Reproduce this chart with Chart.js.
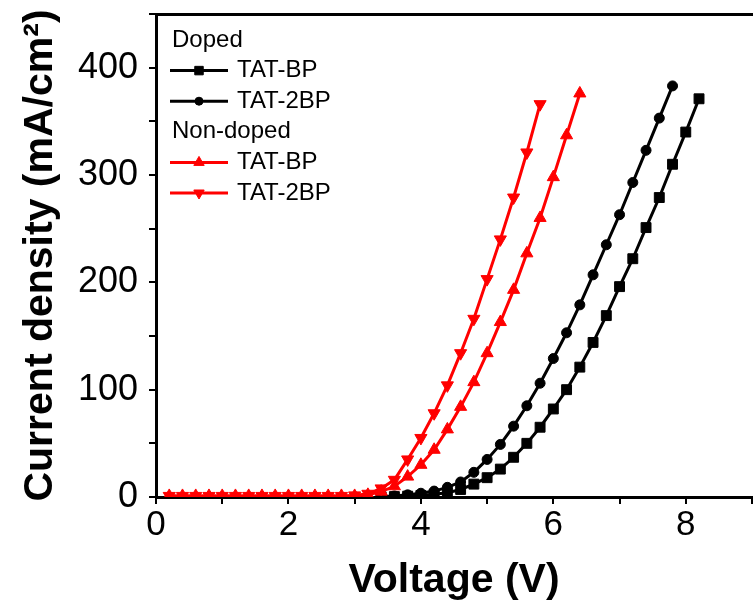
<!DOCTYPE html>
<html>
<head>
<meta charset="utf-8">
<script src="https://cdn.jsdelivr.net/npm/chart.js@4.4.1/dist/chart.umd.min.js"></script>
<style>
  html, body { margin: 0; padding: 0; background: #fff; overflow: hidden; }
  #wrap { position: relative; width: 760px; height: 601px; }
</style>
</head>
<body>
<div id="wrap"><canvas id="jv"></canvas></div>
<script>
// Current density (mA/cm2) vs voltage (V)

// Doped, TAT-BP (squares)
const voltDopedBP = [3.4, 3.6, 3.8, 4.0, 4.2, 4.4, 4.6, 4.8, 5.0, 5.2, 5.4, 5.6, 5.8,
  6.0, 6.2, 6.4, 6.6, 6.8, 7.0, 7.2, 7.4, 7.6, 7.8, 8.0, 8.2];
const jDopedBP = [0.2, 0.4, 0.8, 1.5, 2.5, 4, 7, 12, 18, 26, 37, 50, 65,
  82, 100, 121, 144, 169, 196, 222, 251, 279, 310, 340, 371];

// Doped, TAT-2BP (circles)
const voltDoped2BP = [3.4, 3.6, 3.8, 4.0, 4.2, 4.4, 4.6, 4.8, 5.0, 5.2, 5.4, 5.6, 5.8,
  6.0, 6.2, 6.4, 6.6, 6.8, 7.0, 7.2, 7.4, 7.6, 7.8];
const jDoped2BP = [0.5, 1, 2, 3.5, 5.5, 9, 14, 23, 35, 49, 66, 85, 106,
  129, 153, 179, 207, 235, 263, 293, 323, 353, 383];

// Non-doped, TAT-BP (up triangles)
const voltNonDopedBP = [0.2, 0.4, 0.6, 0.8, 1.0, 1.2, 1.4, 1.6, 1.8, 2.0, 2.2, 2.4, 2.6, 2.8,
  3.0, 3.2, 3.4, 3.6, 3.8, 4.0, 4.2, 4.4, 4.6, 4.8, 5.0, 5.2, 5.4, 5.6, 5.8, 6.0, 6.2, 6.4];
const jNonDopedBP = [1, 1, 1, 1, 1, 1, 1, 1, 1, 1, 1, 1, 1, 1,
  1, 2, 5, 10, 19, 30, 44, 63, 84, 107, 134, 163, 193, 227, 260, 298, 337, 376];

// Non-doped, TAT-2BP (down triangles)
const voltNonDoped2BP = [0.2, 0.4, 0.6, 0.8, 1.0, 1.2, 1.4, 1.6, 1.8, 2.0, 2.2, 2.4, 2.6, 2.8,
  3.0, 3.2, 3.4, 3.6, 3.8, 4.0, 4.2, 4.4, 4.6, 4.8, 5.0, 5.2, 5.4, 5.6, 5.8];
const jNonDoped2BP = [1, 1, 1, 1, 1, 1, 1, 1, 1, 1, 1, 1, 1, 1,
  1.5, 3, 8, 16, 35, 55, 78, 104, 134, 166, 203, 240, 279, 321, 366];

const legendGroups = ['Doped', 'Non-doped'];
const xTickLabels = [0, 2, 4, 6, 8];
const yTickLabels = [0, 100, 200, 300, 400];

const FONT = 'Liberation Sans, Arial, sans-serif';
Chart.defaults.font.family = FONT;
Chart.defaults.color = '#000';

function toPoints(xs, ys) {
  return ys.map((y, i) => ({ x: xs[i], y: y }));
}

function series(label, group, xs, ys, color, style, radius, rotation, order) {
  return {
    label: label,
    legendGroup: group,
    data: toPoints(xs, ys),
    borderColor: color,
    backgroundColor: color,
    borderWidth: 3,
    pointStyle: style,
    pointRadius: radius,
    pointRotation: rotation,
    pointBackgroundColor: color,
    pointBorderColor: color,
    pointBorderWidth: 1,
    tension: 0,
    order: order
  };
}

const datasets = [
  series('TAT-BP', 'Doped', voltDopedBP, jDopedBP, '#000000', 'rect', 7, 0, 1),
  series('TAT-2BP', 'Doped', voltDoped2BP, jDoped2BP, '#000000', 'circle', 5, 0, 1),
  series('TAT-BP', 'Non-doped', voltNonDopedBP, jNonDopedBP, '#ff0000', 'triangle', 7, 0, 0),
  series('TAT-2BP', 'Non-doped', voltNonDoped2BP, jNonDoped2BP, '#ff0000', 'triangle', 7, 180, 0)
];

// legend with group headers, drawn inside the plot area
const groupLegend = {
  id: 'groupLegend',
  afterDraw(chart) {
    const ctx = chart.ctx;
    const area = chart.chartArea;
    const rowH = 30.6;
    let y = area.top + 26;
    ctx.save();
    ctx.font = '24px ' + FONT;
    ctx.textBaseline = 'middle';
    ctx.textAlign = 'left';
    legendGroups.forEach(group => {
      ctx.fillStyle = '#000';
      ctx.fillText(group, area.left + 16, y);
      y += rowH;
      chart.data.datasets.forEach(ds => {
        if (ds.legendGroup !== group) return;
        ctx.strokeStyle = ds.borderColor;
        ctx.fillStyle = ds.backgroundColor;
        ctx.lineWidth = ds.borderWidth;
        ctx.beginPath();
        ctx.moveTo(area.left + 14, y);
        ctx.lineTo(area.left + 72, y);
        ctx.stroke();
        ctx.lineWidth = 1;
        Chart.helpers.drawPoint(ctx, {
          pointStyle: ds.pointStyle,
          radius: ds.pointRadius - 1,
          rotation: ds.pointRotation,
          borderWidth: 1
        }, area.left + 43, y);
        ctx.fillStyle = '#000';
        ctx.fillText(ds.label, area.left + 81, y);
        y += rowH;
      });
    });
    ctx.restore();
  }
};

new Chart(document.getElementById('jv'), {
  type: 'line',
  data: { datasets: datasets },
  plugins: [groupLegend],
  options: {
    responsive: true,
    maintainAspectRatio: false,
    animation: false,
    layout: { padding: { left: 0, right: 5, top: 0, bottom: 0 } },
    plugins: {
      legend: { display: false },
      tooltip: { enabled: false }
    },
    scales: {
      x: {
        type: 'linear',
        position: 'bottom',
        min: 0,
        max: 9,
        ticks: {
          stepSize: 1,
          autoSkip: false,
          maxRotation: 0,
          padding: 0,
          font: { size: 35 },
          callback: v => xTickLabels.includes(v) ? String(v) : ''
        },
        grid: { drawOnChartArea: false, drawTicks: true, tickLength: 7, lineWidth: 2, color: '#000' },
        border: { display: true, width: 3, color: '#000' },
        title: {
          display: true,
          text: 'Voltage (V)',
          font: { size: 41, weight: 'bold', lineHeight: 1 },
          padding: { top: 0, bottom: 0 }
        },
        afterFit: s => { s.height = 104; s.paddingRight = 0; }
      },
      xTop: {
        type: 'linear',
        position: 'top',
        min: 0,
        max: 9,
        ticks: { display: false },
        grid: { drawOnChartArea: false, drawTicks: false },
        border: { display: true, width: 3, color: '#000' },
        afterFit: s => { s.height = 14; }
      },
      y: {
        type: 'linear',
        min: 0,
        max: 450,
        ticks: {
          stepSize: 50,
          autoSkip: false,
          padding: 11,
          font: { size: 36 },
          callback: v => yTickLabels.includes(v) ? String(v) : ''
        },
        grid: { drawOnChartArea: false, drawTicks: true, tickLength: 7, lineWidth: 2, color: '#000' },
        border: { display: true, width: 3, color: '#000' },
        title: {
          display: true,
          text: 'Current density (mA/cm²)',
          font: { size: 41, weight: 'bold', lineHeight: 1 },
          padding: { top: 20, bottom: 0 }
        },
        afterFit: s => { s.width = 156; s.paddingTop = 0; s.paddingBottom = 0; }
      }
    }
  }
});
</script>
</body>
</html>
